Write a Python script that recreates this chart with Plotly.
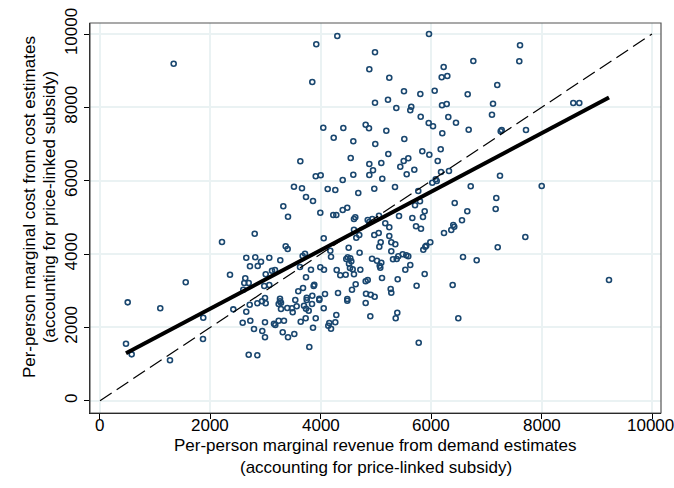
import plotly.graph_objects as go

# Per-plan marginal revenue (demand side) vs marginal cost (cost side)
mr = [
    1335,
    4299, 5960, 3918, 4982, 6763, 6226, 4879, 6190, 6292, 5241, 3846, 5507, 6063, 5803,
    6661, 5217, 4982, 6196, 6281, 5368, 5639, 5621, 5810, 6310, 6449, 5955, 6033, 4045,
    4408, 4813, 4873, 5187, 6679, 6201, 4234, 5513, 4589, 4987, 6172, 5839, 5966, 5223,
    4542, 3629, 5585, 5502, 6118, 4879, 5096, 5440, 4946, 5694, 6178, 6322, 3908, 3998,
    4589, 4879, 5556, 4397, 5114, 6082,
    7609, 7596, 7197, 7120, 8574, 8683, 7101, 7277, 7259, 7717, 7246,
    8002, 7179, 7168, 7705, 7205, 9221,
    3321, 3406, 2803, 2210, 3364, 3400, 2650, 2813, 3067, 3266, 2917, 2717, 2857, 3116,
    3170, 2355, 3002, 2632, 2614, 2694, 2976, 3067, 2596, 2989, 3261, 1553,
    502, 1092, 1871, 471, 574, 1866, 1268, 2415, 2650, 2712, 2850, 2935, 3002, 3261,
    3237, 3279, 3279, 3393, 2585, 2723, 2989, 3152, 3176, 3237, 3333, 2790, 2940, 3310,
    2989, 3406, 2694, 2850,
    3538, 3745, 3973, 4480, 4813, 3478, 3491, 3563, 3696, 3732, 3781, 3841, 4053, 4281,
    4897, 5357, 5386, 6491, 3636, 3726, 3908, 4154, 4136, 4185, 4263, 3859, 3520, 3792,
    5774,
    3514, 3659, 4125, 4263, 4679, 4969, 5344, 5766, 6020, 6100, 6716, 3732, 3859, 5797,
    5707, 6426, 5882, 4397, 4480, 3991, 4226, 4281, 4601, 4625, 5054, 5417, 5851, 5658,
    6654, 4850, 4933, 4879, 5168, 6558, 5241, 5725, 5815, 6400, 6418, 6364, 4601, 5049,
    4969, 4697, 4643, 5241, 6232, 4053, 5085, 5060, 5277, 5350, 5984, 5893, 5857, 5911,
    4505, 4172, 4185, 4703, 5277, 3714, 3672, 5484, 5549, 5585, 5404, 5308, 5375, 4487,
    4534, 4462, 4553, 4511, 4928, 5018, 5096, 5067, 5078, 3623, 6576, 6824, 5621, 5531,
    3822, 3991, 4058, 4288, 4578, 4529, 4716, 4353, 4451, 4601, 5882, 3732, 5109, 5393,
    4850, 4813, 3882, 3871, 4632, 5736, 6389, 3678, 3592, 4565, 5266, 5277, 4819, 4904,
    4976, 4312, 4076, 3745, 3846, 3973, 4480,
]
mc = [
    9190,
    9945, 10000, 9719, 9501, 9264, 9100, 9037, 8819, 8855, 8808, 8691, 8437, 8454, 8364,
    8356, 8208, 8127, 8056, 8091, 7982, 8017, 7919, 7745, 7737, 7581, 7573, 7483, 7445,
    7437, 7527, 7428, 7363, 7390, 7292, 7172, 7137, 7074, 7000, 6856, 6801, 6708, 6728,
    6619, 6528, 6610, 6537, 6537, 6455, 6482, 6381, 6283, 6299, 6237, 6264, 6119, 6147,
    6163, 6155, 6174, 6019, 6054, 6038,
    9692, 9256, 8609, 8099, 8118, 8118, 7799, 7382, 7347, 7382, 6136,
    5855, 5528, 5228, 4464, 4183, 3291,
    5301, 5018, 4554, 4328, 4211, 4137, 3900, 3911, 3900, 3829, 3791, 3665, 3673, 3545,
    3564, 3436, 3447, 3338, 3210, 3210, 3128, 3155, 3027, 2801, 2782, 3229,
    2683, 2520, 2263, 1554, 1265, 1683, 1102, 2492, 2427, 2618, 2656, 2711, 2656, 2711,
    2637, 2672, 2501, 2528, 2127, 2182, 2138, 2100, 2064, 2182, 2182, 1955, 1901, 1865,
    1729, 1729, 1254, 1238,
    2746, 2746, 2746, 2727, 2664, 2520, 2411, 2574, 2591, 2509, 2454, 2637, 2520, 2337,
    2302, 2247, 2400, 2247, 2154, 2247, 2247, 2119, 2045, 1963, 2138, 1991, 1819, 1464,
    1582,
    5836, 5792, 5773, 5746, 5664, 5781, 5828, 5719, 5945, 5991, 5847, 5555, 5446, 5438,
    5329, 5391, 5165, 5200, 5263, 5127, 5064, 5064, 4955, 5001, 5045, 5037, 5010, 4982,
    5165, 4928, 4955, 4873, 4838, 4920, 4729, 4756, 4690, 4791, 4745, 4655, 4663, 4573,
    4519, 4519, 4445, 4491, 4573, 4429, 4320, 4200, 4320, 4265, 4320, 4200, 4118, 4227,
    4172, 4091, 3927, 4036, 4074, 4009, 3946, 3992, 3965, 3938, 3938, 3856, 3864, 3911,
    3883, 3864, 3801, 3736, 3872, 3818, 3763, 3681, 3627, 3646, 3919, 3829, 3701, 3572,
    3572, 3638, 3572, 3564, 3583, 3619, 3572, 3420, 3436, 3447, 3455, 3365, 3346, 3311,
    3292, 3256, 3163, 3128, 3174, 3136, 3155, 3073, 2983, 3027, 3046, 2945, 2918, 2891,
    2836, 2937, 2910, 2809, 2863, 2782, 2773,
]

# Linear fit (intercept, slope) and the 45-degree reference line
fit_coef = [918, 0.797]
diag = [0, 10000]

tick_vals = [0, 2000, 4000, 6000, 8000, 10000]
tick_text = ["0", "2000", "4000", "6000", "8000", "10000"]

x_title = ["Per-person marginal revenue from demand estimates",
           "(accounting for price-linked subsidy)"]
y_title = ["Per-person marginal cost from cost estimates",
           "(accounting for price-linked subsidy)"]

fit_x = [min(mr), max(mr)]
fit_y = [fit_coef[0] + fit_coef[1] * v for v in fit_x]

font = "Liberation Sans, Arial, sans-serif"
grid = "#eaf2f3"

fig = go.Figure()
fig.add_trace(go.Scatter(
    x=mr, y=mc, mode="markers",
    marker=dict(symbol="circle-open", size=5, color="#1a476f",
                line=dict(width=1.6, color="#1a476f")),
    showlegend=False, hoverinfo="skip",
))
fig.add_trace(go.Scatter(
    x=fit_x, y=fit_y, mode="lines",
    line=dict(color="black", width=4),
    showlegend=False,
))
fig.add_trace(go.Scatter(
    x=diag, y=diag, mode="lines",
    line=dict(color="black", width=1.2, dash="14px,6px"),
    showlegend=False,
))

axis_common = dict(
    tickvals=tick_vals, ticktext=tick_text,
    ticks="outside", ticklen=5, tickcolor="black", tickwidth=1,
    showline=True, linecolor="black", linewidth=1.2,
    showgrid=True, gridcolor=grid, gridwidth=1.5, zeroline=False,
    tickfont=dict(size=17), ticklabeloverflow="allow", automargin=False,
)

notes = []
# x tick labels placed just under the tick marks
for i, (v, t) in enumerate(zip(tick_vals, tick_text)):
    notes.append(dict(text=t, xref="x", yref="paper", x=v, y=-0.031,
                      xanchor="center", yanchor="middle", showarrow=False,
                      xshift=-2 if i == len(tick_vals) - 1 else 0,
                      font=dict(size=17)))
# axis titles: one annotation per line (paper coords relative to plot area)
for text, y in zip(x_title, [-0.0846, -0.141]):
    notes.append(dict(text=text, xref="paper", yref="paper", x=0.5, y=y,
                      xanchor="center", yanchor="middle", showarrow=False,
                      font=dict(size=17)))
for text, x in zip(y_title, [-0.1068, -0.0718]):
    notes.append(dict(text=text, xref="paper", yref="paper", x=x, y=0.528,
                      xanchor="center", yanchor="middle", textangle=-90,
                      showarrow=False, font=dict(size=17)))

fig.update_layout(
    width=674, height=488,
    margin=dict(l=90, r=13, t=23, b=75),
    paper_bgcolor="white", plot_bgcolor="white",
    font=dict(family=font, size=17, color="black"),
    xaxis=dict(range=[-181, 10163], showticklabels=False, **axis_common),
    yaxis=dict(range=[-335, 10300], tickangle=-90, **axis_common),
    shapes=[dict(type="rect", xref="paper", yref="paper", x0=0, y0=0, x1=1, y1=1,
                 line=dict(color="#555555", width=1.2), fillcolor="rgba(0,0,0,0)")],
    annotations=notes,
)

fig.write_html("out.html")
